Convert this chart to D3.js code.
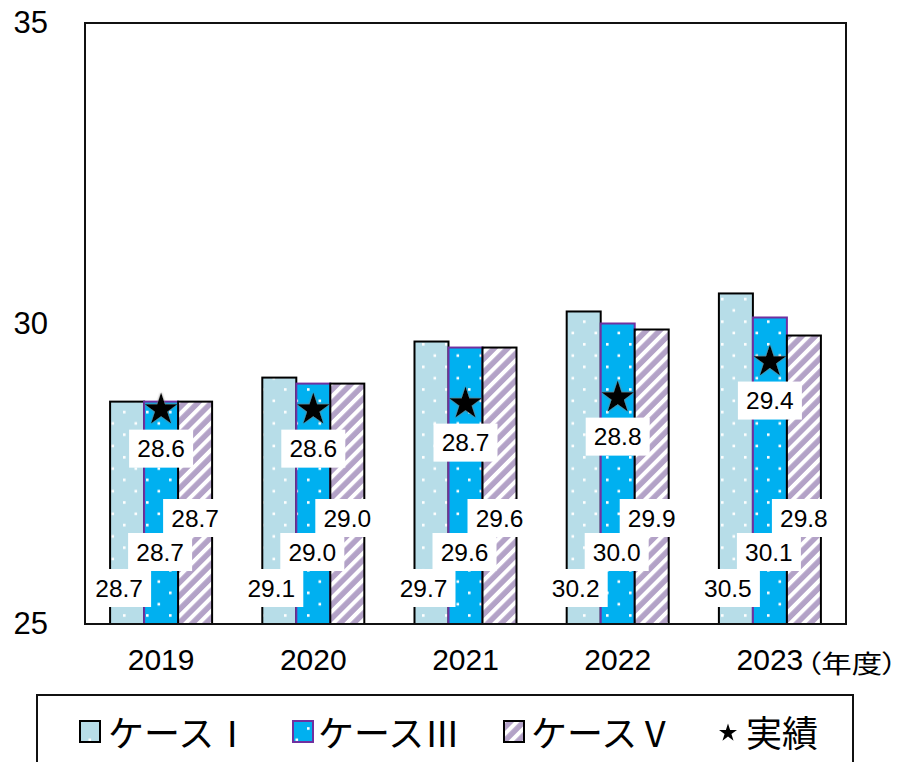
<!DOCTYPE html>
<html>
<head>
<meta charset="utf-8">
<script src="https://cdn.jsdelivr.net/npm/d3@7"></script>
<style>
  html, body { margin: 0; padding: 0; background: #fff; }
  svg { display: block; }
  .unit { font-feature-settings: "palt" 1; }
</style>
</head>
<body>
<svg id="chart" width="900" height="762"></svg>
<script>
// Fiscal years and projected values per case, plus the actual figures
const years = ["2019", "2020", "2021", "2022", "2023"];
const caseI = [28.7, 29.1, 29.7, 30.2, 30.5];
const caseIII = [28.7, 29.0, 29.6, 30.0, 30.1];
const caseV = [28.7, 29.0, 29.6, 29.9, 29.8];
const actual = [28.6, 28.6, 28.7, 28.8, 29.4];
const yTicks = [25, 30, 35];
const seriesNames = ["ケースⅠ", "ケースⅢ", "ケースⅤ", "実績"];
const yearUnit = "（年度）";

const svg = d3.select("#chart");
const plot = { left: 85, top: 23, right: 846, bottom: 624 };

const x0 = d3.scaleBand().domain(years).range([plot.left, plot.right]);
const x1 = d3.scaleBand().domain([0, 1, 2]).range([0, x0.bandwidth()]).paddingOuter(0.738);
const y = d3.scaleLinear().domain([25, 35]).range([plot.bottom, plot.top]);

// ---------- fill patterns ----------
const defs = svg.append("defs");

function dotPattern(id, bg) {
  const p = defs.append("pattern").attr("id", id)
    .attr("patternUnits", "userSpaceOnUse").attr("width", 23).attr("height", 22.6);
  p.append("rect").attr("width", 23).attr("height", 22.6).attr("fill", bg);
  p.append("rect").attr("x", 8).attr("y", 4).attr("width", 2.6).attr("height", 2.6).attr("fill", "#fff");
  p.append("rect").attr("x", 19.5).attr("y", 15.3).attr("width", 2.6).attr("height", 2.6).attr("fill", "#fff");
}
dotPattern("dotsI", "#b7dde8");
dotPattern("dotsIII", "#00b0f0");

const stripes = defs.append("pattern").attr("id", "stripesV")
  .attr("patternUnits", "userSpaceOnUse").attr("width", 9.5).attr("height", 9.5)
  .attr("patternTransform", "rotate(45)");
stripes.append("rect").attr("width", 9.5).attr("height", 9.5).attr("fill", "#b3a2c7");
stripes.append("rect").attr("width", 4).attr("height", 9.5).attr("fill", "#fff");

const soft = defs.append("filter").attr("id", "soft").attr("x", "-30%").attr("y", "-30%").attr("width", "160%").attr("height", "160%");
soft.append("feGaussianBlur").attr("in", "SourceAlpha").attr("stdDeviation", 1.2).attr("result", "b");
soft.append("feFlood").attr("flood-color", "#777").attr("result", "c");
soft.append("feComposite").attr("in", "c").attr("in2", "b").attr("operator", "in").attr("result", "s");
const merge = soft.append("feMerge");
merge.append("feMergeNode").attr("in", "s");
merge.append("feMergeNode").attr("in", "SourceGraphic");

// ---------- series setup ----------
const series = [
  { values: caseI, fill: "url(#dotsI)", stroke: "#000", labelLift: 36, labelDx: -8 },
  { values: caseIII, fill: "url(#dotsIII)", stroke: "#7030a0", labelLift: 72, labelDx: -1 },
  { values: caseV, fill: "url(#stripesV)", stroke: "#000", labelLift: 106, labelDx: 0 }
];

// ---------- bars ----------
series.forEach((s, si) => {
  svg.append("g").selectAll("rect")
    .data(s.values)
    .join("rect")
    .attr("x", (d, i) => x0(years[i]) + x1(si))
    .attr("y", d => y(d))
    .attr("width", x1.bandwidth())
    .attr("height", d => y(25) - y(d))
    .attr("fill", s.fill)
    .attr("stroke", s.stroke)
    .attr("stroke-width", 2);
});

// ---------- frame and axes ----------
svg.append("rect")
  .attr("x", plot.left).attr("y", plot.top)
  .attr("width", plot.right - plot.left).attr("height", plot.bottom - plot.top)
  .attr("fill", "none").attr("stroke", "#111").attr("stroke-width", 2);

const numFont = "'Liberation Sans', Arial, sans-serif";

const yAxis = svg.append("g")
  .attr("transform", `translate(${plot.left},0)`)
  .call(d3.axisLeft(y).tickValues(yTicks).tickSize(0).tickPadding(37).tickFormat(d3.format("d")));
yAxis.select(".domain").remove();
yAxis.selectAll("text").attr("font-family", numFont).attr("font-size", 31).attr("fill", "#000");

const xAxis = svg.append("g")
  .attr("transform", `translate(0,${plot.bottom})`)
  .call(d3.axisBottom(x0).tickSize(0).tickPadding(25));
xAxis.select(".domain").remove();
xAxis.selectAll("text").attr("font-family", numFont).attr("font-size", 30).attr("fill", "#000");

svg.append("text")
  .attr("class", "unit")
  .attr("transform", "translate(806,662) scale(1.22,1)")
  .attr("dominant-baseline", "central")
  .attr("font-family", "'Noto Sans CJK JP', sans-serif")
  .attr("font-size", 25)
  .text(yearUnit);

// ---------- actual-value stars ----------
const star = d3.symbol().type(d3.symbolStar).size(330);
svg.append("g").selectAll("path")
  .data(actual)
  .join("path")
  .attr("d", star)
  .attr("transform", (d, i) => `translate(${x0(years[i]) + x1(1) + x1.bandwidth() / 2},${y(d) + 2})`)
  .attr("fill", "#000")
  .attr("filter", "url(#soft)");

// ---------- value labels ----------
const labelFont = "'Liberation Sans Narrow', 'Liberation Sans', Arial, sans-serif";
function drawLabel(g, cx, cy, txt) {
  g.append("rect")
    .attr("x", cx - 32).attr("y", cy - 19)
    .attr("width", 64).attr("height", 38)
    .attr("fill", "#fff");
  g.append("text")
    .attr("x", cx).attr("y", cy)
    .attr("text-anchor", "middle")
    .attr("dominant-baseline", "central")
    .attr("font-family", labelFont)
    .attr("font-size", 24.5)
    .attr("fill", "#000")
    .text(d3.format(".1f")(txt));
}

const labels = svg.append("g");
[2, 1, 0].forEach(si => {
  const s = series[si];
  s.values.forEach((v, i) => {
    const cx = x0(years[i]) + x1(si) + x1.bandwidth() / 2 + s.labelDx;
    drawLabel(labels, cx, y(25) - s.labelLift, v);
  });
});
actual.forEach((v, i) => {
  const cx = x0(years[i]) + x1(1) + x1.bandwidth() / 2;
  drawLabel(labels, cx, y(v) + 41, v);
});

// ---------- legend ----------
svg.append("path")
  .attr("d", "M37,772V695H853V772")
  .attr("fill", "none").attr("stroke", "#111").attr("stroke-width", 2);

const legendItems = [
  { name: seriesNames[0], fill: "url(#dotsI)", stroke: "#000", x: 80, tx: 108 },
  { name: seriesNames[1], fill: "url(#dotsIII)", stroke: "#7030a0", x: 293, tx: 318 },
  { name: seriesNames[2], fill: "url(#stripesV)", stroke: "#000", x: 504, tx: 531 },
  { name: seriesNames[3], star: true, x: 728, tx: 746 }
];
const legend = svg.append("g");
legendItems.forEach(it => {
  if (it.star) {
    legend.append("path")
      .attr("d", d3.symbol().type(d3.symbolStar).size(100)())
      .attr("transform", `translate(${it.x},733)`)
      .attr("fill", "#000");
  } else {
    legend.append("rect")
      .attr("x", it.x).attr("y", 721).attr("width", 20).attr("height", 21)
      .attr("fill", it.fill).attr("stroke", it.stroke).attr("stroke-width", 2);
  }
  legend.append("text")
    .attr("x", it.tx).attr("y", 731)
    .attr("dominant-baseline", "central")
    .attr("font-family", "'Noto Sans CJK JP', sans-serif")
    .attr("font-size", 36)
    .attr("fill", "#000")
    .text(it.name);
});
</script>
</body>
</html>
